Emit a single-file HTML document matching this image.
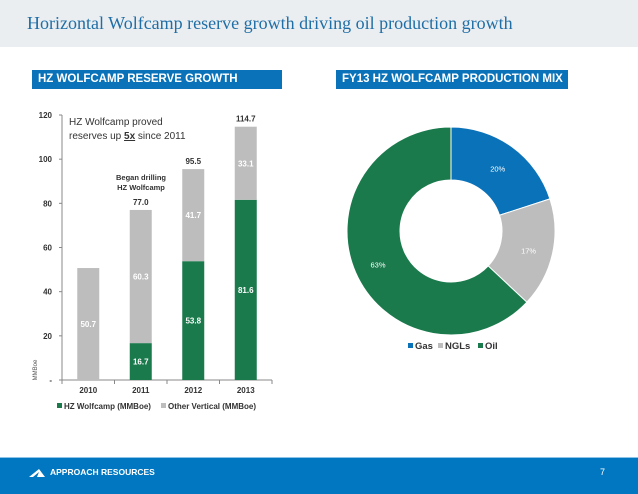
<!DOCTYPE html>
<html><head><meta charset="utf-8"><style>
body{margin:0;width:638px;height:493px;position:relative;background:#fff;font-family:"Liberation Sans",sans-serif;overflow:hidden}
.abs{position:absolute}
</style></head><body>
<div class="abs" style="left:0;top:0;width:638px;height:47px;background:#ebeef1"></div>
<div class="abs" style="left:27px;top:13px;font-family:'Liberation Serif',serif;font-size:18px;color:#1f6ea6">Horizontal Wolfcamp reserve growth driving oil production growth</div>
<div class="abs" style="left:32px;top:70px;width:250px;height:19px;background:#0a72b9;color:#fff;font-weight:bold;font-size:11.5px;line-height:19px;padding-left:6px;box-sizing:border-box">HZ WOLFCAMP RESERVE GROWTH</div>
<div class="abs" style="left:336px;top:70px;width:232px;height:19px;background:#0a72b9;color:#fff;font-weight:bold;font-size:11.5px;line-height:19px;padding-left:6px;box-sizing:border-box">FY13 HZ WOLFCAMP PRODUCTION MIX</div>
<svg class="abs" style="left:0;top:0" width="638" height="456" id="svg"></svg>
<div class="abs" style="left:0;top:457px;width:638px;height:36px;background:#0077c0;border-top:1px solid #8cc3e6"></div>
<svg class="abs" style="left:29px;top:468px" width="16" height="10"><polygon points="0,9 10,1 16,9" fill="#fff"/><polygon points="4,9 10,4 8,9" fill="#0077c0"/></svg>
<div class="abs" style="left:50px;top:467px;font-size:8.5px;font-weight:bold;color:#fff">APPROACH RESOURCES</div>
<div class="abs" style="left:600px;top:467px;font-size:9px;color:#fff">7</div>
<script>
const years=['2010','2011','2012','2013'];
const hzValues=[0,16.7,53.8,81.6];
const otherValues=[50.7,60.3,41.7,33.1];
const totals=['','77.0','95.5','114.7'];
const yTicks=[0,20,40,60,80,100,120];
const mixLabels=['Gas','NGLs','Oil'];
const mixValues=[20,17,63];
const NS='http://www.w3.org/2000/svg';
const svg=document.getElementById('svg');
function mk(t,a,txt){const e=document.createElementNS(NS,t);for(const k in a)e.setAttribute(k,a[k]);if(txt!=null)e.textContent=txt;svg.appendChild(e);return e;}
const y0=380,pxu=265/120,ax0=62,ax1=272;
const Y=v=>y0-v*pxu;
const X=i=>ax0+(ax1-ax0)/4*(i+0.5);
const GREEN='#1a7a4c',GRAY='#bdbdbd',BLUE='#0a72b9';
let e;
e=mk('line',{x1:ax0,y1:Y(0),x2:ax0,y2:Y(120),stroke:'#888'});


e=mk('line',{x1:ax0,y1:Y(0),x2:ax1,y2:Y(0),stroke:'#888'});


yTicks.forEach(t=>{
e=mk('line',{x1:ax0-3,y1:Y(t),x2:ax0,y2:Y(t),stroke:'#888'});


e=mk('text',{x:52,y:Y(t)+3,'text-anchor':'end','font-size':'8','font-weight':'bold',fill:'#333'},t===0?'-':t);


});
for(let i=0;i<=4;i++){e=mk('line',{x1:ax0+(ax1-ax0)/4*i,y1:Y(0),x2:ax0+(ax1-ax0)/4*i,y2:Y(0)+4,stroke:'#888'});

}
e=mk('text',{x:37,y:370,'font-size':'6',fill:'#555',transform:'rotate(-90 37 370)','text-anchor':'middle'},'MMBoe');


const bw=22;
years.forEach((yr,i)=>{
const cx=X(i);
if(hzValues[i]>0){
e=mk('rect',{x:cx-bw/2,y:Y(hzValues[i]),width:bw,height:Y(0)-Y(hzValues[i]),fill:GREEN});


e=mk('text',{x:cx,y:(Y(0)+Y(hzValues[i]))/2+3,'text-anchor':'middle','font-size':'8','font-weight':'bold',fill:'#fff'},hzValues[i].toFixed(1));

}
const top=hzValues[i]+otherValues[i];
e=mk('rect',{x:cx-bw/2,y:Y(top),width:bw,height:Y(hzValues[i])-Y(top),fill:GRAY});


e=mk('text',{x:cx,y:(Y(hzValues[i])+Y(top))/2+3,'text-anchor':'middle','font-size':'8','font-weight':'bold',fill:'#fff'},otherValues[i].toFixed(1));


if(totals[i]){e=mk('text',{x:cx,y:Y(top)-5,'text-anchor':'middle','font-size':'8','font-weight':'bold',fill:'#333'},totals[i]);

}
e=mk('text',{x:cx,y:Y(0)+13,'text-anchor':'middle','font-size':'8','font-weight':'bold',fill:'#333'},yr);


});
e=mk('text',{x:69,y:125,'font-size':'10',fill:'#333'},'HZ Wolfcamp proved');


e=mk('text',{x:69,y:139,'font-size':'10',fill:'#333'});
e.innerHTML='reserves up <tspan text-decoration="underline" font-weight="bold">5x</tspan> since 2011';


e=mk('text',{x:141,y:180,'text-anchor':'middle','font-size':'7.5','font-weight':'bold',fill:'#333'},'Began drilling');


e=mk('text',{x:141,y:190,'text-anchor':'middle','font-size':'7.5','font-weight':'bold',fill:'#333'},'HZ Wolfcamp');


e=mk('rect',{x:57,y:403,width:5,height:5,fill:GREEN});


e=mk('text',{x:64,y:409,'font-size':'8','font-weight':'bold',fill:'#333'},'HZ Wolfcamp (MMBoe)');


e=mk('rect',{x:161,y:403,width:5,height:5,fill:GRAY});


e=mk('text',{x:168,y:409,'font-size':'8','font-weight':'bold',fill:'#333'},'Other Vertical (MMBoe)');


const pcx=451,pcy=231,R=104,r=51,cols=[BLUE,GRAY,GREEN];
const tot=mixValues.reduce((a,b)=>a+b,0);
let ang=0;
const pt=(a,rad)=>[pcx+rad*Math.sin(a),pcy-rad*Math.cos(a)];
mixValues.forEach((v,i)=>{
const a0=ang,a1=ang+v/tot*2*Math.PI;ang=a1;
const lg=a1-a0>Math.PI?1:0;
const p0=pt(a0,R),p1=pt(a1,R),q1=pt(a1,r),q0=pt(a0,r);
e=mk('path',{d:`M${p0}A${R},${R} 0 ${lg} 1 ${p1}L${q1}A${r},${r} 0 ${lg} 0 ${q0}Z`,fill:cols[i],stroke:'#fff','stroke-width':1});


const m=pt((a0+a1)/2,(R+r)/2+2);
e=mk('text',{x:m[0],y:m[1]+5,'text-anchor':'middle','font-size':'7.5',fill:'#fff'},v+'%');


});
let lx=408;
mixLabels.forEach((l,i)=>{
e=mk('rect',{x:lx,y:343,width:5,height:5,fill:cols[i]});


e=mk('text',{x:lx+7,y:349,'font-size':'9.5','font-weight':'bold',fill:'#333'},l);


lx+=[30,40,0][i];
});
</script>
</body></html>
